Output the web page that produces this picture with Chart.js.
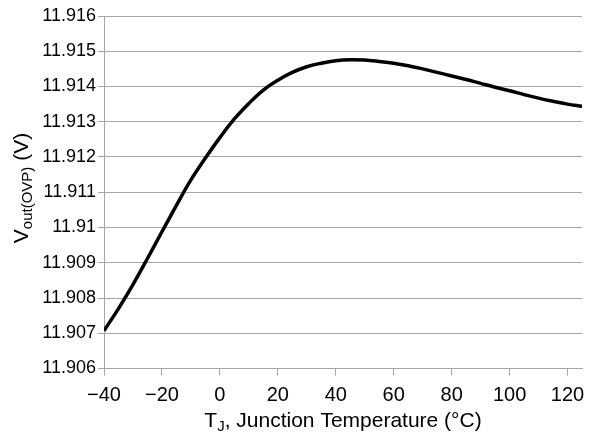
<!DOCTYPE html>
<html>
<head>
<meta charset="utf-8">
<script src="https://cdn.jsdelivr.net/npm/chart.js@4/dist/chart.umd.min.js"></script>
<style>
  html, body { margin: 0; padding: 0; background: #fff; }
  #wrap { width: 599px; height: 436px; position: relative; }
</style>
</head>
<body>
<div id="wrap"><canvas id="chart"></canvas></div>
<script>
// junction temperature (°C)
const temps = [-40, -35, -30, -25, -20, -15, -10, -5, 0, 5, 10, 15, 20, 25, 30, 35, 40,
               45, 50, 55, 60, 65, 70, 75, 80, 85, 90, 95, 100, 105, 110, 115, 120, 125];
// Vout(OVP) (V)
const vout = [11.90707, 11.90770, 11.90838, 11.90912, 11.90988, 11.91063, 11.91135, 11.91197,
              11.91255, 11.91308, 11.91352, 11.91390, 11.91418, 11.91440, 11.91456, 11.91466,
              11.91473, 11.91476, 11.91475, 11.91471, 11.91466, 11.91459, 11.91450, 11.91440,
              11.91430, 11.91420, 11.91409, 11.91398, 11.91388, 11.91377, 11.91367, 11.91358,
              11.91350, 11.91344];

const xTicks = [-40, -20, 0, 20, 40, 60, 80, 100, 120];
const yTicks = [11.906, 11.907, 11.908, 11.909, 11.91, 11.911, 11.912, 11.913, 11.914, 11.915, 11.916];

const FONT = '"Liberation Sans", Arial, Helvetica, sans-serif';
const GRID = '#a6a6a6';

// axis titles with subscripts
const axisTitles = {
  id: 'axisTitles',
  afterDraw(chart) {
    const ctx = chart.ctx;
    const area = chart.chartArea;
    ctx.save();
    ctx.fillStyle = '#000';
    ctx.textBaseline = 'alphabetic';

    const big = '21px ' + FONT, small = '15px ' + FONT;

    // x title: T_J, Junction Temperature (°C)
    const parts = [['T', big, 0], ['J', small, 4], [', Junction Temperature (°C)', big, 0]];
    let w = 0;
    parts.forEach(p => { ctx.font = p[1]; w += ctx.measureText(p[0]).width; });
    let x = (area.left + area.right) / 2 - w / 2;
    const y = 427;
    parts.forEach(p => {
      ctx.font = p[1];
      ctx.fillText(p[0], x, y + p[2]);
      x += ctx.measureText(p[0]).width;
    });

    // y title: V_out(OVP) (V), rotated
    const yparts = [['V', big, 0], ['out(OVP)', small, 4], [' (V)', big, 0]];
    w = 0;
    yparts.forEach(p => { ctx.font = p[1]; w += ctx.measureText(p[0]).width; });
    ctx.translate(28, 188);
    ctx.rotate(-Math.PI / 2);
    x = -w / 2;
    yparts.forEach(p => {
      ctx.font = p[1];
      ctx.fillText(p[0], x, p[2]);
      x += ctx.measureText(p[0]).width;
    });
    ctx.restore();
  }
};

new Chart(document.getElementById('chart'), {
  type: 'line',
  data: {
    datasets: [{
      data: temps.map((t, i) => ({ x: t, y: vout[i] })),
      borderColor: '#000',
      borderWidth: 3.5,
      pointRadius: 0,
      fill: false,
      tension: 0.4
    }]
  },
  options: {
    responsive: true,
    maintainAspectRatio: false,
    animation: false,
    layout: { padding: { top: 16, right: 17, bottom: 0, left: 0 } },
    plugins: { legend: { display: false }, tooltip: { enabled: false } },
    scales: {
      x: {
        type: 'linear',
        min: -40,
        max: 125,
        afterBuildTicks: s => { s.ticks = xTicks.map(v => ({ value: v })); },
        afterFit: s => { s.height = 67.5; },
        grid: { drawOnChartArea: false, color: GRID, tickLength: 7, lineWidth: 1 },
        border: { color: GRID, width: 1 },
        ticks: {
          color: '#000',
          font: { family: FONT, size: 20 },
          padding: 8,
          maxRotation: 0,
          callback: v => String(v).replace('-', '\u2212')
        }
      },
      y: {
        min: 11.906,
        max: 11.916,
        afterBuildTicks: s => { s.ticks = yTicks.map(v => ({ value: v })); },
        afterFit: s => { s.width = 104; },
        grid: { color: GRID, tickLength: 6, lineWidth: 1 },
        border: { color: GRID, width: 1 },
        ticks: {
          color: '#000',
          font: { family: FONT, size: 18 },
          padding: 2,
          callback: v => String(Number(v.toFixed(3)))
        }
      }
    }
  },
  plugins: [axisTitles]
});
</script>
</body>
</html>
